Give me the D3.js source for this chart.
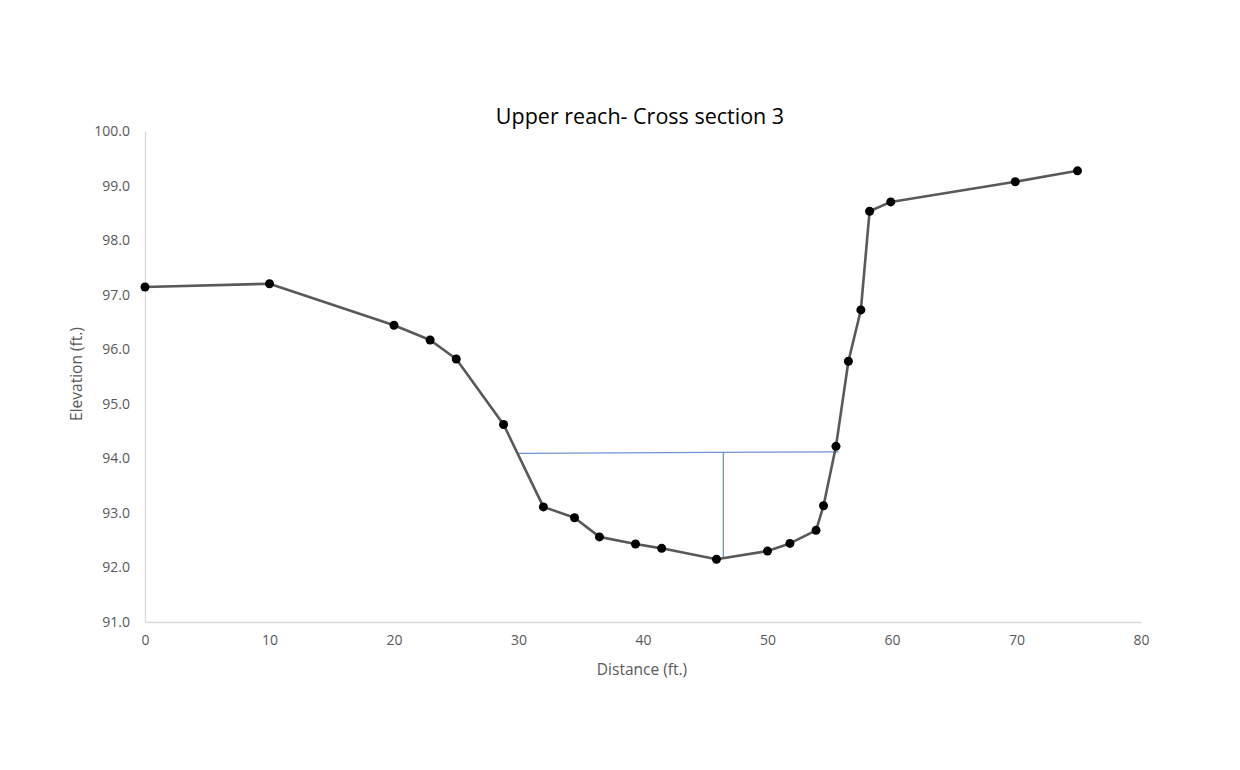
<!DOCTYPE html>
<html><head><meta charset="utf-8">
<script src="https://cdn.jsdelivr.net/npm/d3@7/dist/d3.min.js"></script>
<style>body{margin:0;background:#fff;}svg{display:block;}</style>
</head><body>
<svg id="chart" width="1240" height="770"></svg>
<script>
const distance = [0, 10, 20, 22.9, 25, 28.8, 32, 34.5, 36.5, 39.4, 41.5, 45.9, 50, 51.8, 53.9, 54.5, 55.5, 56.5, 57.5, 58.2, 59.9, 69.9, 74.9];
const elevation = [97.14, 97.20, 96.44, 96.17, 95.82, 94.62, 93.11, 92.91, 92.56, 92.43, 92.35, 92.15, 92.30, 92.44, 92.68, 93.13, 94.22, 95.78, 96.72, 98.53, 98.70, 99.07, 99.27];
const waterX = [30, 55.7];
const waterY = [94.09, 94.12];
const depthX = [46.45, 46.45];
const depthY = [94.10, 92.17];
const xTicks = [0, 10, 20, 30, 40, 50, 60, 70, 80];
const yTicks = [91, 92, 93, 94, 95, 96, 97, 98, 99, 100];
const title = "Upper reach- Cross section 3";
const xLabel = "Distance (ft.)";
const yLabel = "Elevation (ft.)";

const svg = d3.select("#chart");
const font = "'Open Sans', 'Liberation Sans', sans-serif";
const mLeft = 145, mRight = 1141, mTop = 131, mBottom = 622;
const x = d3.scaleLinear().domain([0, 80]).range([mLeft, mRight]);
const y = d3.scaleLinear().domain([91, 100]).range([mBottom, mTop]);

// axes
const xAxis = svg.append("g").attr("transform", `translate(0,${mBottom})`)
  .call(d3.axisBottom(x).tickValues(xTicks).tickSize(0).tickPadding(13).tickFormat(d3.format("d")));
const yAxis = svg.append("g").attr("transform", `translate(${mLeft},0)`)
  .call(d3.axisLeft(y).tickValues(yTicks).tickSize(0).tickPadding(15).tickFormat(d3.format(".1f")));
[xAxis, yAxis].forEach(a => {
  a.select(".domain").attr("stroke", "#d9d9d9").attr("stroke-width", 1.3);
  a.selectAll("text").attr("fill", "#595959").style("font-family", font).style("font-size", "14px");
});

// water surface and depth lines
const pts = (xs, ys) => xs.map((v, i) => [x(v), y(ys[i])]);
const lineGen = d3.line();
svg.append("path").attr("d", lineGen(pts(waterX, waterY))).attr("fill", "none").attr("stroke", "#6f93d0").attr("stroke-width", 1.3);
svg.append("path").attr("d", lineGen(pts(depthX, depthY))).attr("fill", "none").attr("stroke", "#6f93d0").attr("stroke-width", 1.3);

// profile
const data = pts(distance, elevation);
svg.append("path").attr("d", lineGen(data)).attr("fill", "none").attr("stroke", "#595959").attr("stroke-width", 2.6).attr("stroke-linejoin", "round");
svg.selectAll("circle.m").data(data).join("circle").attr("class", "m")
  .attr("cx", d => d[0]).attr("cy", d => d[1]).attr("r", 4.5).attr("fill", "#000");

// texts
svg.append("text").attr("x", 640).attr("y", 124).attr("text-anchor", "middle")
  .style("font-family", font).style("font-size", "21.5px").attr("fill", "#000").text(title);
svg.append("text").attr("x", 642).attr("y", 675).attr("text-anchor", "middle")
  .style("font-family", font).style("font-size", "15.5px").attr("fill", "#595959").text(xLabel);
svg.append("text").attr("transform", "translate(82,374) rotate(-90)").attr("text-anchor", "middle")
  .style("font-family", font).style("font-size", "15.5px").attr("fill", "#595959").text(yLabel);
</script>
</body></html>
